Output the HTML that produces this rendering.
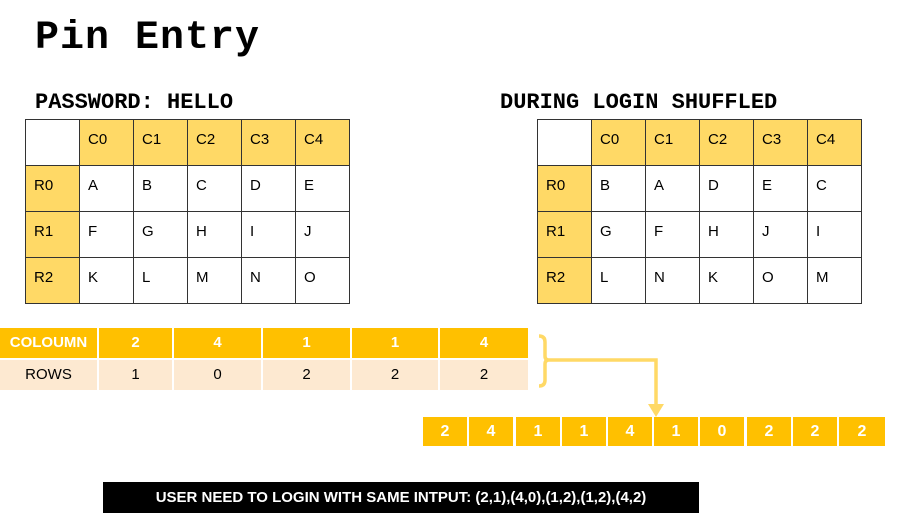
<!DOCTYPE html>
<html><head><meta charset="utf-8"><style>
body{margin:0;width:917px;height:532px;background:#fff;position:relative;overflow:hidden;font-family:"Liberation Sans",sans-serif}
.a{position:absolute;box-sizing:border-box}
.title{left:35px;top:16px;font:bold 40px "Liberation Mono",monospace;letter-spacing:1px}
.sub{font:bold 22px "Liberation Mono",monospace;top:90px}
table.g{position:absolute;border-collapse:collapse;top:119px}
table.g td{border:1.5px solid #333;width:54px;height:46px;font-size:15px;vertical-align:top;padding:11px 0 0 8px;box-sizing:border-box}
.y{background:#ffd966}
.hc{top:328px;height:30px;background:#ffc000;color:#fff;font-weight:bold;font-size:15px;text-align:center;line-height:30px}
.rc{top:360px;height:30px;background:#fde9d1;font-size:15px;text-align:center;line-height:30px}
.seq{top:417px;height:29px;width:46px;background:#ffc000;color:#fff;font-weight:bold;font-size:16px;text-align:center;line-height:29px;border-right:2px solid #fff}
</style></head><body>
<div class="a title">Pin Entry</div>
<div class="a sub" style="left:35px">PASSWORD: HELLO</div>
<div class="a sub" style="left:500px">DURING LOGIN SHUFFLED</div>
<table class="g" style="left:25px">
<tr><td></td><td class="y">C0</td><td class="y">C1</td><td class="y">C2</td><td class="y">C3</td><td class="y">C4</td></tr>
<tr><td class="y">R0</td><td>A</td><td>B</td><td>C</td><td>D</td><td>E</td></tr>
<tr><td class="y">R1</td><td>F</td><td>G</td><td>H</td><td>I</td><td>J</td></tr>
<tr><td class="y">R2</td><td>K</td><td>L</td><td>M</td><td>N</td><td>O</td></tr>
</table>
<table class="g" style="left:537px">
<tr><td></td><td class="y">C0</td><td class="y">C1</td><td class="y">C2</td><td class="y">C3</td><td class="y">C4</td></tr>
<tr><td class="y">R0</td><td>B</td><td>A</td><td>D</td><td>E</td><td>C</td></tr>
<tr><td class="y">R1</td><td>G</td><td>F</td><td>H</td><td>J</td><td>I</td></tr>
<tr><td class="y">R2</td><td>L</td><td>N</td><td>K</td><td>O</td><td>M</td></tr>
</table>
<div>
<div class="a hc" style="left:0;width:97px">COLOUMN</div>
<div class="a hc" style="left:99px;width:73px">2</div>
<div class="a hc" style="left:174px;width:87px">4</div>
<div class="a hc" style="left:263px;width:87px">1</div>
<div class="a hc" style="left:352px;width:86px">1</div>
<div class="a hc" style="left:440px;width:88px">4</div>
<div class="a rc" style="left:0;width:97px">ROWS</div>
<div class="a rc" style="left:99px;width:73px">1</div>
<div class="a rc" style="left:174px;width:87px">0</div>
<div class="a rc" style="left:263px;width:87px">2</div>
<div class="a rc" style="left:352px;width:86px">2</div>
<div class="a rc" style="left:440px;width:88px">2</div>
</div>
<svg class="a" style="left:0;top:0" width="917" height="532">
<path d="M539,336 q6,0 6,6 v14 q0,4 4,4 q-4,0 -4,4 v16 q0,6 -6,6" fill="none" stroke="#ffd966" stroke-width="3.5"/>
<path d="M549,360 H656 V406" fill="none" stroke="#ffd966" stroke-width="3.5"/>
<polygon points="648,404 664,404 656,417" fill="#ffd966"/>
</svg>
<div class="a seq" style="left:423px">2</div>
<div class="a seq" style="left:469px">4</div>
<div class="a seq" style="left:516px">1</div>
<div class="a seq" style="left:562px">1</div>
<div class="a seq" style="left:608px">4</div>
<div class="a seq" style="left:654px">1</div>
<div class="a seq" style="left:700px">0</div>
<div class="a seq" style="left:747px">2</div>
<div class="a seq" style="left:793px">2</div>
<div class="a seq" style="left:839px;border-right:none">2</div>
<div class="a" style="left:103px;top:482px;width:596px;height:31px;background:#000;color:#fff;font-weight:bold;font-size:15px;line-height:31px;text-align:center">USER NEED TO LOGIN WITH SAME INTPUT: (2,1),(4,0),(1,2),(1,2),(4,2)</div>
</body></html>
